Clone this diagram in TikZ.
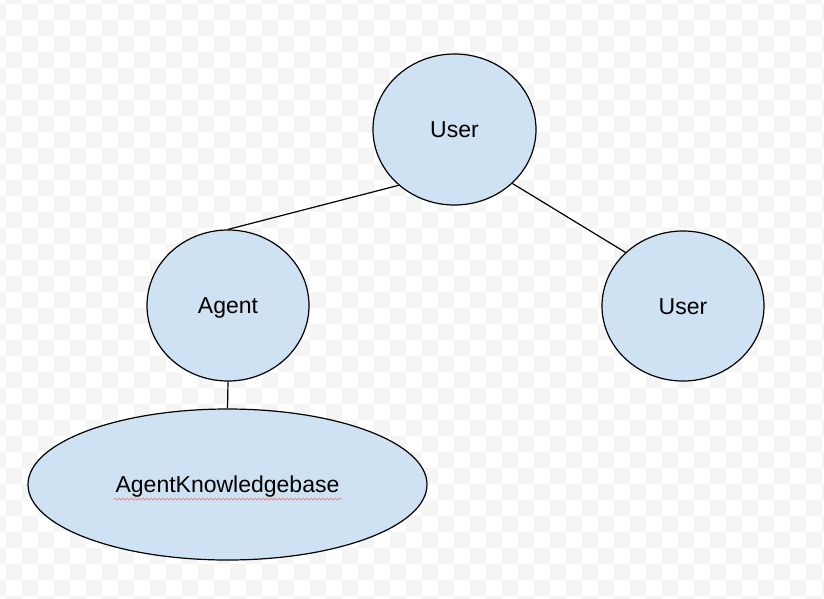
\documentclass[tikz,border=0pt]{standalone}
\usepackage{fontspec}
\setmainfont{Liberation Sans}
\usepackage{xcolor}
\usepackage{tikz}
\usetikzlibrary{positioning, shapes.geometric, decorations.pathmorphing}
\definecolor{bubblefill}{HTML}{CFE2F3}
\definecolor{checkgray}{HTML}{F5F5F5}
\definecolor{spellred}{HTML}{F08080}

\begin{document}
\begin{tikzpicture}[x=1pt, y=-1pt,
    bubble/.style={ellipse, draw=black, fill=bubblefill, line width=1.2pt, inner sep=0pt,
        text=black, font=\fontsize{23}{27}\selectfont, text height=16.5pt, text depth=0pt}]
      \useasboundingbox (0,0) rectangle (824,598);
      \fill[white] (0,0) rectangle (824,598);
      % checkered backdrop
      \begin{scope}
      \clip (0,0) rectangle (824,598);
      \foreach \n in {-1,...,37} {
          \pgfmathtruncatemacro\off{mod(\n+1,2)}
          \foreach \k in {0,...,26}
              \fill[checkgray] (6+16*\off-32+32*\k, 4+16*\n) rectangle ++(16,16);
      }
      \end{scope}
      \node[bubble, minimum width=163pt, minimum height=151pt] (usertop) at (454.5,129.5) {User};
      \node[bubble, minimum width=162pt, minimum height=151pt] (agent) at (228,305.5) {Agent};
      \node[bubble, minimum width=162pt, minimum height=150pt] (userright) at (683,306) {User};
      \node[bubble, minimum width=399pt, minimum height=151pt] (kbase) at (227.5,484.5) {AgentKnowledgebase};
      \draw[line width=1.2pt] (usertop.225) -- (agent.north);
      \draw[line width=1.2pt] (usertop.317) -- (userright.137);
      \draw[line width=1.2pt] (agent.south) -- (kbase.north);
      % spell-check squiggle
      \coordinate (squigA) at (114,499);
      \coordinate (squigB) at (342,499);
      \draw[spellred, line width=0.7pt, decorate, decoration={snake, segment length=4pt, amplitude=1pt}] (squigA) -- (squigB);
  \end{tikzpicture}
\end{document}
